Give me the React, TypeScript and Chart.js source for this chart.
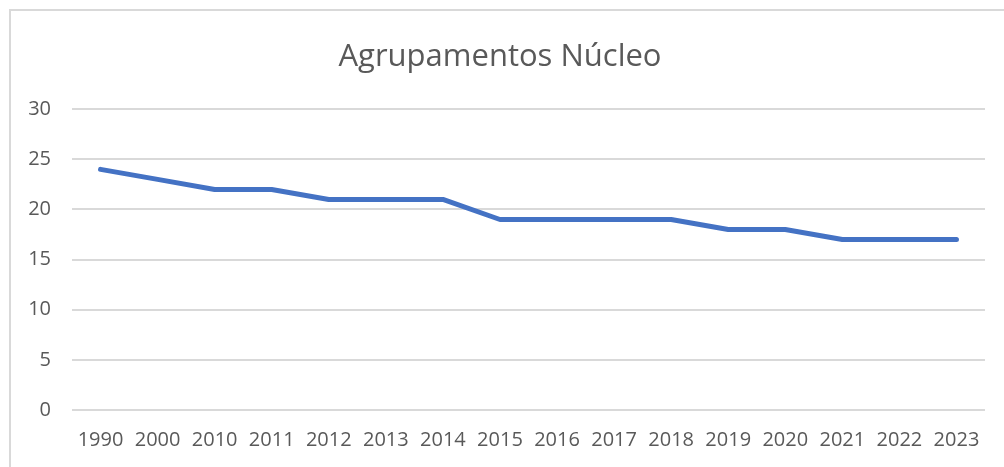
import React, { useEffect, useRef } from "react";
import { Chart, registerables } from "chart.js";

Chart.register(...registerables);

const categories = ["1990", "2000", "2010", "2011", "2012", "2013", "2014", "2015", "2016", "2017", "2018", "2019", "2020", "2021", "2022", "2023"];
const values = [24, 23, 22, 22, 21, 21, 21, 19, 19, 19, 19, 18, 18, 17, 17, 17];
const yTicks = [0, 5, 10, 15, 20, 25, 30];
const titleText = "Agrupamentos Núcleo";

export default function App() {
  const ref = useRef<HTMLCanvasElement | null>(null);
  useEffect(() => {
    if (!ref.current) return;
    const font = "'Open Sans', 'Liberation Sans', sans-serif";
    const chart = new Chart(ref.current, {
      type: "line",
      data: {
        labels: categories,
        datasets: [
          {
            data: values,
            borderColor: "#4472C4",
            backgroundColor: "#4472C4",
            borderWidth: 5,
            pointRadius: 0,
            tension: 0,
            borderCapStyle: "round",
            borderJoinStyle: "round",
          },
        ],
      },
      options: {
        responsive: false,
        animation: false,
        layout: { padding: { left: 15, right: 19, top: 0, bottom: 0 } },
        plugins: {
          legend: { display: false },
          tooltip: { enabled: false },
          title: {
            display: true,
            text: titleText,
            color: "#595959",
            font: { family: font, size: 31, weight: "normal" },
            padding: { top: 39, bottom: 33 },
          },
        },
        scales: {
          x: {
            offset: true,
            grid: { display: false, drawTicks: false, offset: true },
            border: { display: false },
            ticks: {
              color: "#595959",
              font: { family: font, size: 20 },
              padding: 18,
              maxRotation: 0,
              autoSkip: false,
            },
            afterFit: (s: any) => {
              s.height = 57;
            },
          },
          y: {
            min: 0,
            max: 30,
            afterBuildTicks: (s: any) => {
              s.ticks = yTicks.map((v) => ({ value: v }));
            },
            grid: { color: "#d9d9d9", lineWidth: 2, drawTicks: false },
            border: { display: false },
            ticks: {
              color: "#595959",
              font: { family: font, size: 20 },
              padding: 21,
            },
            afterFit: (s: any) => {
              s.width = 57;
            },
          },
        },
      },
    });
    return () => chart.destroy();
  }, []);
  return (
    <div style={{ position: "fixed", left: 0, top: 0, width: 1004, height: 467, background: "#fff", overflow: "hidden" }}>
      <div
        style={{
          position: "absolute",
          left: 9,
          top: 9,
          width: 1010,
          height: 480,
          border: "2px solid #d9d9d9",
          boxSizing: "border-box",
        }}
      />
      <canvas ref={ref} width={1004} height={467} style={{ position: "absolute", left: 0, top: 0, width: 1004, height: 467 }} />
    </div>
  );
}
